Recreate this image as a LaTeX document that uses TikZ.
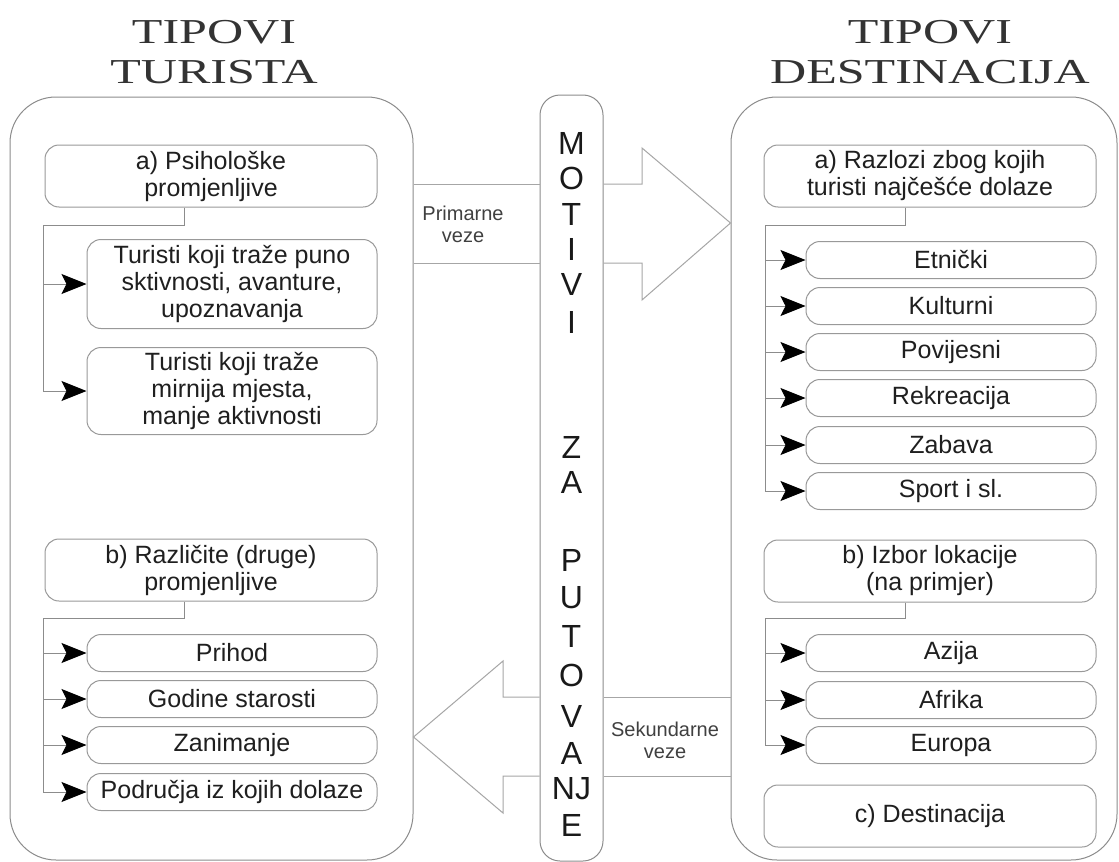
\documentclass[tikz,border=0pt]{standalone}
\usepackage{fontspec}
\setmainfont{Liberation Sans}
\newfontfamily\titlefont{Liberation Serif}[FakeStretch=1.43]
\usepackage{tikz}
\usetikzlibrary{arrows.meta}

\begin{document}
\begin{tikzpicture}[x=0.5pt,y=-0.5pt]
            \tikzstyle{every node}+=[inner sep=0pt]
            \tikzstyle{frame}=[draw=black!45, line width=0.5pt, rounded corners=23pt]
            \tikzstyle{head}=[draw=black!40, line width=0.5pt, rounded corners=7pt, minimum width=166pt, minimum height=31pt, align=center, text=black!88, font=\fontsize{12.5}{13.5}\selectfont]
            \tikzstyle{item}=[head, minimum width=145pt, minimum height=18.5pt]
            \tikzstyle{title}=[align=center, text=black!80, font=\titlefont\fontsize{17.5}{20}\selectfont]
            \tikzstyle{letter}=[text=black!90, font=\fontsize{16}{16}\selectfont]
            \tikzstyle{note}=[align=center, text=black!75, font=\fontsize{10}{11}\selectfont]
            \tikzstyle{link}=[draw=black!45, line width=0.5pt]
            \tikzstyle{tip}=[-{Stealth[length=12.5pt,width=10pt,inset=2.5pt,color=black]}]
            \tikzstyle{flow}=[draw=black!35, line width=0.5pt, line join=miter]
            \path [use as bounding box, fill=white] (0,0) rectangle (1119,862);
            \node [title] (ltitle) at (214,52) {TIPOVI\\TURISTA};
            \node [title] (rtitle) at (930,52) {TIPOVI\\DESTINACIJA};
            \node [frame, minimum width=201.5pt, minimum height=381.5pt] (lbox) at (211.5,478.5) {};
            \node [frame, rounded corners=10pt, minimum width=31.5pt, minimum height=383pt] (mbar) at (571.5,478) {};
            \node [frame, minimum width=193pt, minimum height=381.5pt] (rbox) at (924,478.5) {};
            \node [head] (lpsih) at (211,176) {a) Psihološke\\promjenljive};
            \node [item, minimum height=44.5pt] (lpuno) at (232,284) {Turisti koji traže puno\\sktivnosti, avanture,\\upoznavanja};
            \node [item, minimum height=43.5pt] (lmirn) at (232,391) {Turisti koji traže\\mirnija mjesta,\\manje aktivnosti};
            \node [head] (lrazl) at (211,570) {b) Različite (druge)\\promjenljive};
            \node [item] (lprih) at (232,653) {Prihod};
            \node [item] (lgod) at (232,699) {Godine starosti};
            \node [item] (lzan) at (232,745) {Zanimanje};
            \node [item] (lpod) at (232,792) {Područja iz kojih dolaze};
            \node [head] (rrazl) at (930,176) {a) Razlozi zbog kojih\\turisti najčešće dolaze};
            \node [item] (retn) at (951,260) {Etnički};
            \node [item] (rkult) at (951,306) {Kulturni};
            \node [item] (rpov) at (951,352) {Povijesni};
            \node [item] (rrek) at (951,398) {Rekreacija};
            \node [item] (rzab) at (951,445) {Zabava};
            \node [item] (rsport) at (951,491) {Sport i sl.};
            \node [head] (rizb) at (930,571) {b) Izbor lokacije\\(na primjer)};
            \node [item] (razi) at (951,653) {Azija};
            \node [item] (rafr) at (951,700) {Afrika};
            \node [item] (reur) at (951,745) {Europa};
            \node [head] (rdest) at (930,816) {c) Destinacija};
            \coordinate (lka) at (184,225);
            \coordinate (lta) at (43,225);
            \draw [link, tip] (lpsih.south -| lka) -- (lka) -- (lta) |- (lmirn.west);
            \draw [link, tip] (lta |- lpuno.west) -- (lpuno.west);
            \coordinate (lkb) at (184,618);
            \coordinate (ltb) at (43,618);
            \draw [link, tip] (lrazl.south -| lkb) -- (lkb) -- (ltb) |- (lpod.west);
            \draw [link, tip] (ltb |- lprih.west) -- (lprih.west);
            \draw [link, tip] (ltb |- lgod.west) -- (lgod.west);
            \draw [link, tip] (ltb |- lzan.west) -- (lzan.west);
            \coordinate (rka) at (905,225);
            \coordinate (rta) at (765,225);
            \draw [link, tip] (rrazl.south -| rka) -- (rka) -- (rta) |- (rsport.west);
            \draw [link, tip] (rta |- retn.west) -- (retn.west);
            \draw [link, tip] (rta |- rkult.west) -- (rkult.west);
            \draw [link, tip] (rta |- rpov.west) -- (rpov.west);
            \draw [link, tip] (rta |- rrek.west) -- (rrek.west);
            \draw [link, tip] (rta |- rzab.west) -- (rzab.west);
            \coordinate (rkb) at (905,618);
            \coordinate (rtb) at (765,618);
            \draw [link, tip] (rizb.south -| rkb) -- (rkb) -- (rtb) |- (reur.west);
            \draw [link, tip] (rtb |- razi.west) -- (razi.west);
            \draw [link, tip] (rtb |- rafr.west) -- (rafr.west);
            \draw [flow] (lbox.east |- 0,184) -- (mbar.west |- 0,184);
            \draw [flow] (lbox.east |- 0,263) -- (mbar.west |- 0,263);
            \draw [flow] (mbar.east |- 0,184) -- (642,184) -- (642,148) -- (rbox.west |- 0,223) -- (642,300) -- (642,263) -- (mbar.east |- 0,263);
            \node [note] (prim) at (463,224) {Primarne\\veze};
            \draw [flow] (rbox.west |- 0,697) -- (mbar.east |- 0,697);
            \draw [flow] (rbox.west |- 0,776) -- (mbar.east |- 0,776);
            \draw [flow] (mbar.west |- 0,697) -- (503,697) -- (503,661) -- (lbox.east |- 0,737) -- (503,813) -- (503,776) -- (mbar.west |- 0,776);
            \node [note] (sek) at (665,740) {Sekundarne\\veze};
            \node [letter] (mv1) at (571.5,143) {M};
            \node [letter] (mv2) at (571.5,178) {O};
            \node [letter] (mv3) at (571.5,214) {T};
            \node [letter] (mv4) at (571.5,249) {I};
            \node [letter] (mv5) at (571.5,284) {V};
            \node [letter] (mv6) at (571.5,322) {I};
            \node [letter] (mv7) at (571.5,447) {Z};
            \node [letter] (mv8) at (571.5,482) {A};
            \node [letter] (mv9) at (571.5,560) {P};
            \node [letter] (mv10) at (571.5,598) {U};
            \node [letter] (mv11) at (571.5,636) {T};
            \node [letter] (mv12) at (571.5,675) {O};
            \node [letter] (mv13) at (571.5,716) {V};
            \node [letter] (mv14) at (571.5,753) {A};
            \node [letter] (mv15) at (571.5,789) {NJ};
            \node [letter] (mv16) at (571.5,825) {E};
            \end{tikzpicture}
\end{document}
